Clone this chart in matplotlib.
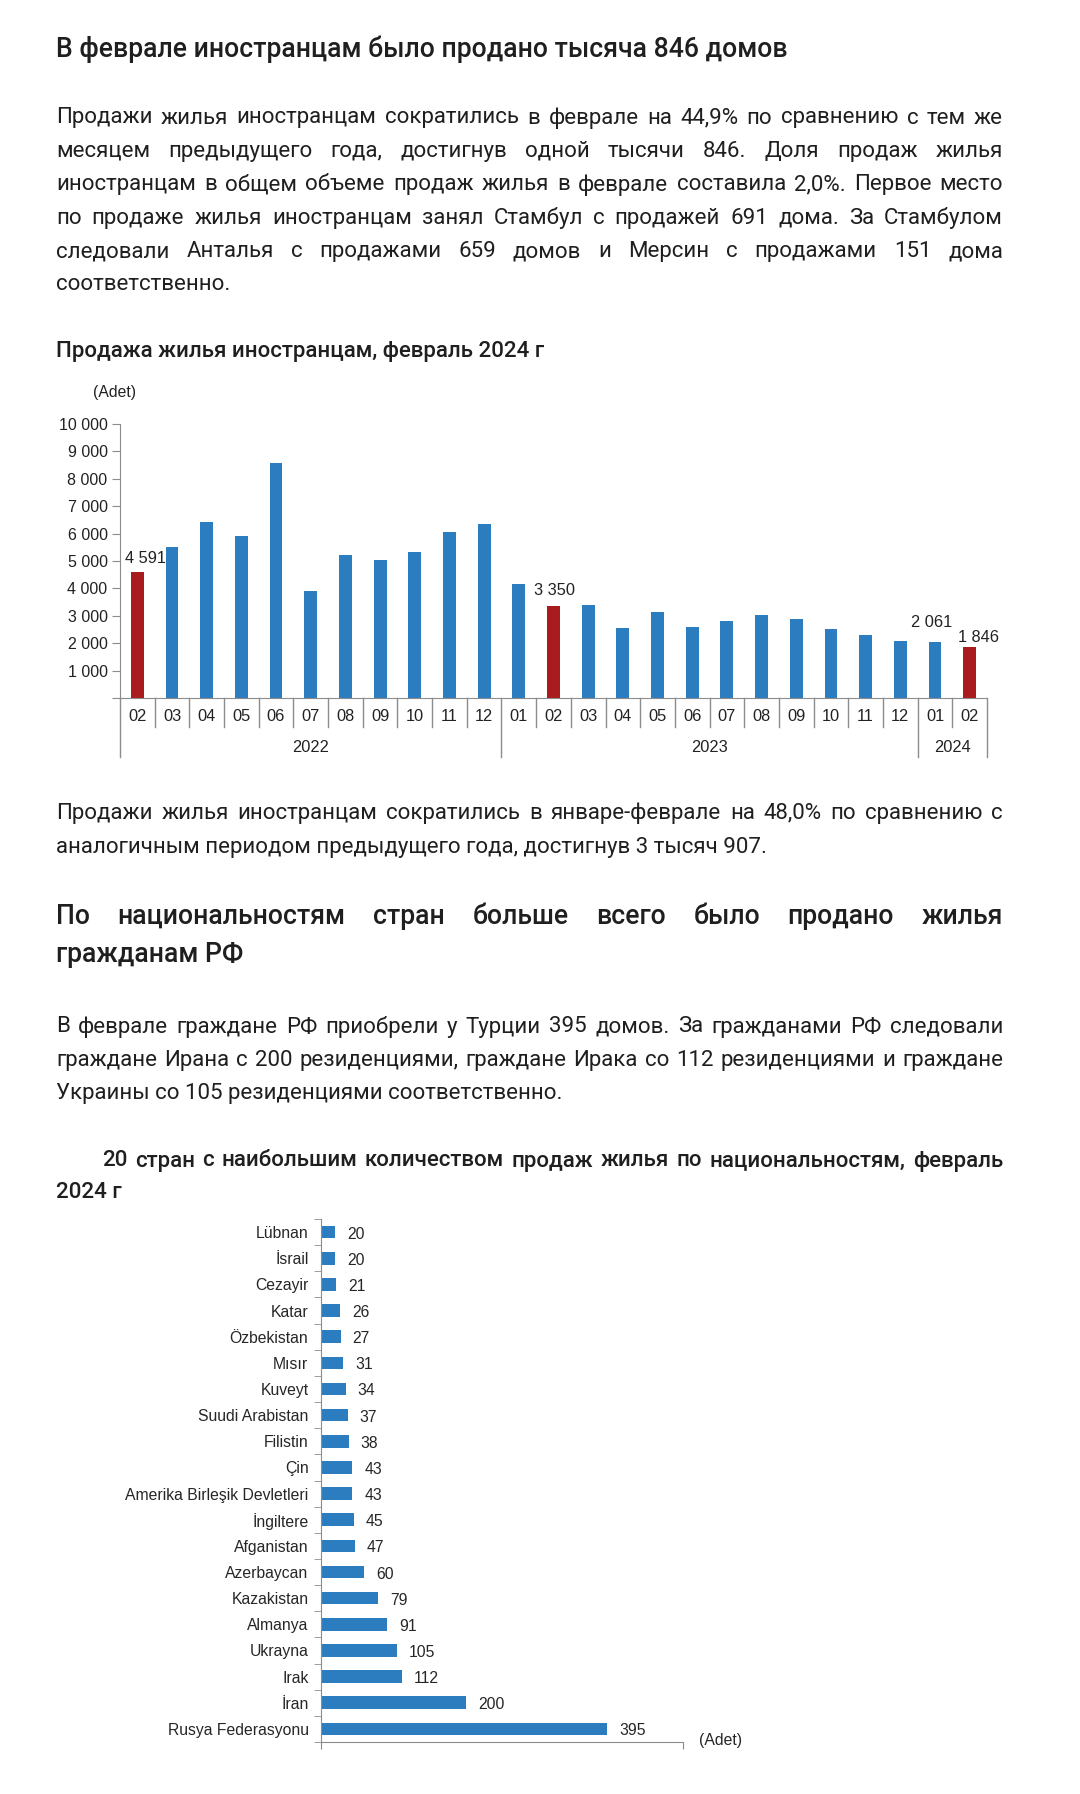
import matplotlib
matplotlib.use("Agg")
import matplotlib.pyplot as plt
import matplotlib.transforms as mtransforms
from matplotlib.ticker import FuncFormatter
import numpy as np

# page text
heading1 = "В феврале иностранцам было продано тысяча 846 домов"
para1 = [
    "Продажи жилья иностранцам сократились в феврале на 44,9% по сравнению с тем же",
    "месяцем предыдущего года, достигнув одной тысячи 846. Доля продаж жилья",
    "иностранцам в общем объеме продаж жилья в феврале составила 2,0%. Первое место",
    "по продаже жилья иностранцам занял Стамбул с продажей 691 дома. За Стамбулом",
    "следовали Анталья с продажами 659 домов и Мерсин с продажами 151 дома",
    "соответственно.",
]
chart1_title = "Продажа жилья иностранцам, февраль 2024 г"
para2 = [
    "Продажи жилья иностранцам сократились в январе-феврале на 48,0% по сравнению с",
    "аналогичным периодом предыдущего года, достигнув 3 тысяч 907.",
]
heading2 = [
    "По национальностям стран больше всего было продано жилья",
    "гражданам РФ",
]
para3 = [
    "В феврале граждане РФ приобрели у Турции 395 домов. За гражданами РФ следовали",
    "граждане Ирана с 200 резиденциями, граждане Ирака со 112 резиденциями и граждане",
    "Украины со 105 резиденциями соответственно.",
]
chart2_title = [
    "20 стран с наибольшим количеством продаж жилья по национальностям, февраль",
    "2024 г",
]

# monthly sales to foreigners
months = ["02", "03", "04", "05", "06", "07", "08", "09", "10", "11", "12",
          "01", "02", "03", "04", "05", "06", "07", "08", "09", "10", "11", "12",
          "01", "02"]
sales = [4591, 5520, 6410, 5920, 8590, 3920, 5230, 5040, 5330, 6060, 6350,
         4160, 3350, 3380, 2560, 3140, 2600, 2800, 3040, 2900, 2510, 2310, 2070,
         2061, 1846]
years = ["2022", "2023", "2024"]
year_first = [0, 11, 23]
year_last = [10, 22, 24]
red_bars = [0, 12, 24]
labeled_bars = [0, 12, 23, 24]

# top 20 nationalities
countries = ["Lübnan", "İsrail", "Cezayir", "Katar", "Özbekistan", "Mısır", "Kuveyt",
             "Suudi Arabistan", "Filistin", "Çin", "Amerika Birleşik Devletleri",
             "İngiltere", "Afganistan", "Azerbaycan", "Kazakistan", "Almanya",
             "Ukrayna", "Irak", "İran", "Rusya Federasyonu"]
counts = [20, 20, 21, 26, 27, 31, 34, 37, 38, 43, 43, 45, 47, 60, 79, 91, 105,
          112, 200, 395]

W, H = 1080, 1794
TXT = "#1f1f1f"
BLUE = "#2C7DC0"
RED = "#A81B1E"
AXC = "#8C8C8C"
BODY = ["Roboto", "DejaVu Sans"]
CHART = ["Liberation Sans", "DejaVu Sans"]

fig = plt.figure(figsize=(W / 100, H / 100), dpi=100)
fig.patch.set_facecolor("white")
renderer = fig.canvas.get_renderer()


def put(x, y, s, **kw):
    return fig.text(x / W, 1 - y / H, s, **kw)


def line(x0, x1, y, s, justify, **kw):
    words = s.split(" ")
    if not justify or len(words) < 2:
        put(x0, y, s, ha="left", va="center", **kw)
        return
    ts = [put(x0, y, w, ha="left", va="center", **kw) for w in words]
    ws = [t.get_window_extent(renderer).width for t in ts]
    gap = (x1 - x0 - sum(ws)) / (len(words) - 1)
    x = x0
    for t, w in zip(ts, ws):
        t.set_x(x / W)
        x += w + gap


def paragraph(lines, y0, step, size, weight="normal", x0=56, x1=1003, first_x=None):
    for i, s in enumerate(lines):
        last = i == len(lines) - 1
        xs = first_x if (i == 0 and first_x) else x0
        line(xs, x1, y0 + i * step, s, not last, fontsize=size,
             fontweight=weight, family=BODY, color=TXT)


line(56, 1003, 49, heading1, False, fontsize=19.2, fontweight="medium",
     family=BODY, color=TXT)
paragraph(para1, 118, 33.4, 16)
line(56, 1003, 352, chart1_title, False, fontsize=16, fontweight="medium",
     family=BODY, color=TXT)
paragraph(para2, 813, 34, 16)
paragraph(heading2, 916, 38, 19.2, weight="medium")
paragraph(para3, 1027, 33.5, 16)
paragraph(chart2_title, 1161, 32, 16, weight="medium", first_x=102)

# ---- monthly bar chart
fmt = lambda v: f"{int(v):,}".replace(",", " ")
ax = fig.add_axes([120 / W, 1 - 698 / H, 867 / W, 274 / H])
x = np.arange(len(months))
ax.bar(x, sales, width=0.37,
       color=[RED if i in red_bars else BLUE for i in x], zorder=2)
ax.set_xlim(-0.5, len(months) - 0.5)
ax.set_ylim(0, 10000)
ax.set_yticks(range(0, 10001, 1000))
ax.yaxis.set_major_formatter(FuncFormatter(lambda v, p: "" if v == 0 else fmt(v)))
for s in ["top", "right"]:
    ax.spines[s].set_visible(False)
for s in ["left", "bottom"]:
    ax.spines[s].set_color(AXC)
ax.tick_params(axis="y", length=6, color=AXC, labelsize=11.5, pad=3,
               labelcolor="#222222", labelfontfamily=CHART)
ax.set_xticks(x)
ax.set_xticklabels(months)
ax.tick_params(axis="x", length=0, pad=8, labelsize=11.8, labelcolor="#222222",
               labelfontfamily=CHART)

trans = mtransforms.blended_transform_factory(ax.transData, ax.transAxes)
year_edges = [year_first[0] - 0.5] + [l + 0.5 for l in year_last]
for b in np.arange(-0.5, len(months), 1.0):
    depth = 59 if b in year_edges else 29
    ax.plot([b, b], [0, -depth / 274], transform=trans, color=AXC, lw=1,
            clip_on=False)
for yr, a, b in zip(years, year_first, year_last):
    ax.text((a + b) / 2, -49 / 274, yr, transform=trans, ha="center",
            va="center", fontsize=11.8, color="#222222", family=CHART)

label_shift = {0: (8, 14), 12: (1, 16), 23: (-3, 19), 24: (9, 10)}
for i in labeled_bars:
    dx, dy = label_shift[i]
    ax.annotate(fmt(sales[i]), (i, sales[i]), xytext=(dx, dy),
                textcoords="offset pixels", ha="center", va="center",
                fontsize=11.8, color="#222222", family=CHART)
put(115, 392, "(Adet)", ha="center", va="center", fontsize=11.3,
    color="#222222", family=CHART)

# ---- nationality bar chart
ax2 = fig.add_axes([321 / W, 1 - 1742 / H, 362 / W, 523 / H])
y = np.arange(len(countries))
ax2.barh(y, counts, height=0.48, color=BLUE, zorder=2)
ax2.set_ylim(len(countries) - 0.5, -0.5)
ax2.set_xlim(0, 500)
ax2.set_yticks(y)
ax2.set_yticklabels(countries)
ax2.set_yticks(np.arange(-0.5, len(countries), 1.0), minor=True)
ax2.tick_params(axis="y", which="major", length=0, pad=9, labelsize=11.3,
                labelcolor="#262626", labelfontfamily=CHART)
ax2.tick_params(axis="y", which="minor", length=5, color=AXC)
ax2.set_xticks([0, 500])
ax2.set_xticklabels([])
ax2.tick_params(axis="x", length=5, color=AXC)
for s in ["top", "right"]:
    ax2.spines[s].set_visible(False)
for s in ["left", "bottom"]:
    ax2.spines[s].set_color(AXC)
for i, v in enumerate(counts):
    ax2.annotate(str(v), (v, i), xytext=(12, -2), textcoords="offset pixels",
                 ha="left", va="center", fontsize=11.3, color="#262626",
                 family=CHART)
put(720, 1740, "(Adet)", ha="center", va="center", fontsize=11.3,
    color="#262626", family=CHART)

fig.savefig("out.png", dpi=100)
